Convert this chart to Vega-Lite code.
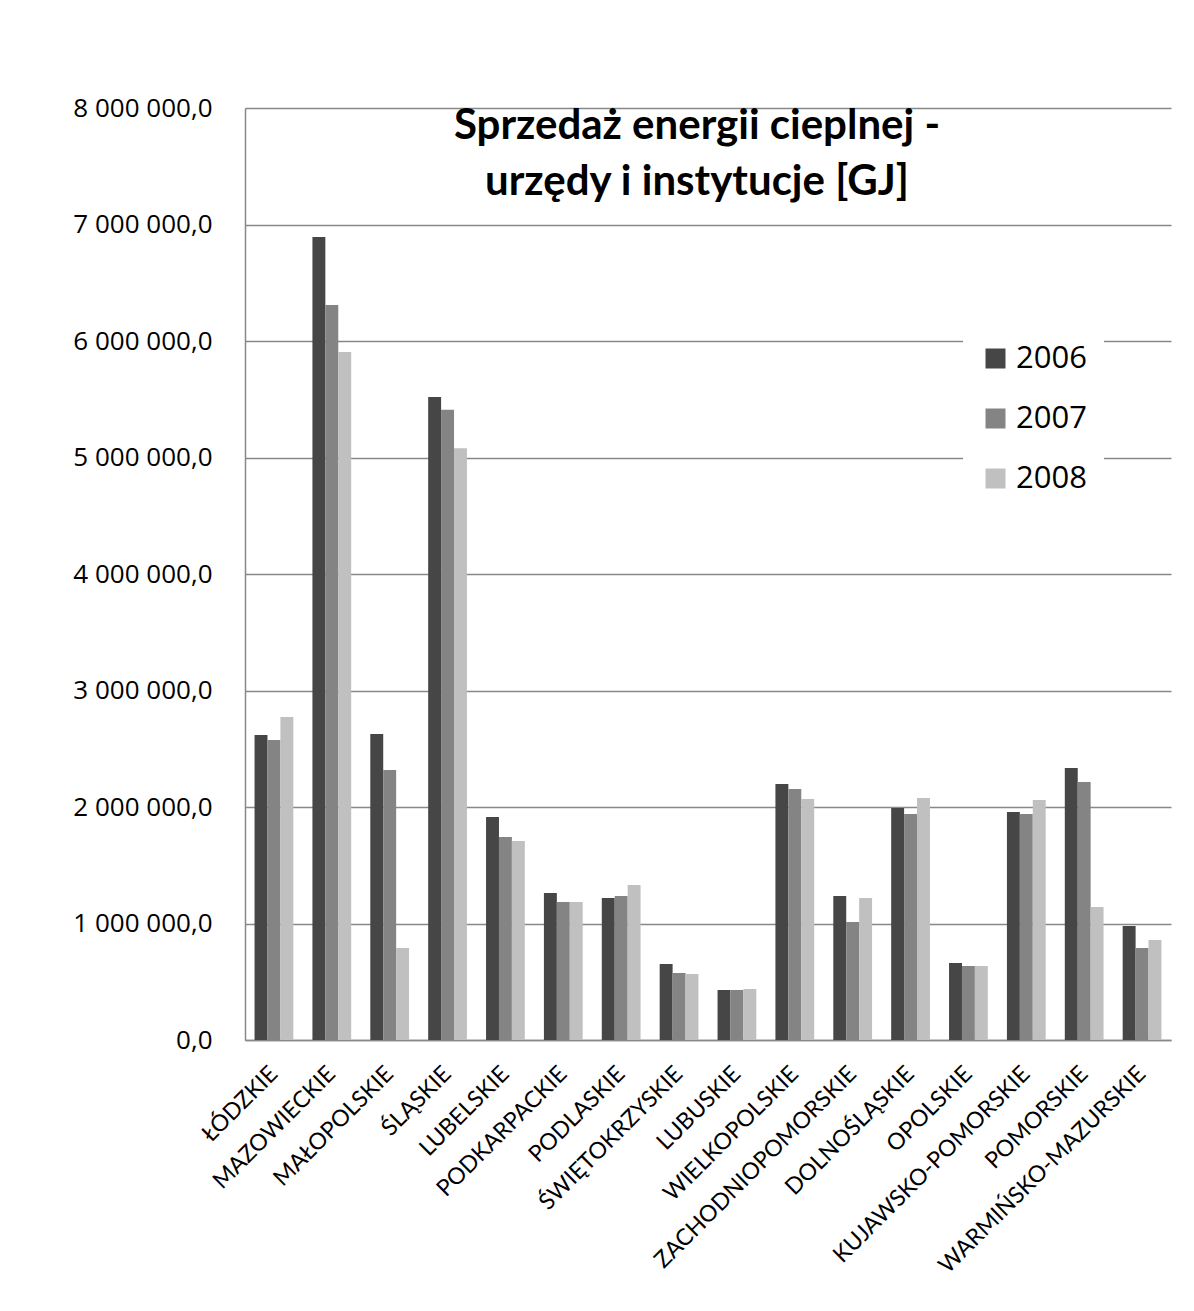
{
  "$schema": "https://vega.github.io/schema/vega-lite/v6.json",
  "width": 926,
  "height": 932,
  "autosize": "none",
  "padding": {"left": 245, "top": 108, "right": 23, "bottom": 271},
  "background": "white",
  "title": {
    "text": ["Sprzedaż energii cieplnej -", "urzędy i instytucje [GJ]"],
    "font": "Lato",
    "fontSize": 42,
    "fontWeight": "bold",
    "color": "black",
    "anchor": "middle",
    "frame": "group",
    "baseline": "top",
    "offset": -109,
    "lineHeight": 56,
    "dx": -11
  },
  "data": {
    "values": [
      {"region": "ŁÓDZKIE", "year": "2006", "value": 2618000},
      {"region": "ŁÓDZKIE", "year": "2007", "value": 2575000},
      {"region": "ŁÓDZKIE", "year": "2008", "value": 2773000},
      {"region": "MAZOWIECKIE", "year": "2006", "value": 6893000},
      {"region": "MAZOWIECKIE", "year": "2007", "value": 6310000},
      {"region": "MAZOWIECKIE", "year": "2008", "value": 5906000},
      {"region": "MAŁOPOLSKIE", "year": "2006", "value": 2627000},
      {"region": "MAŁOPOLSKIE", "year": "2007", "value": 2318000},
      {"region": "MAŁOPOLSKIE", "year": "2008", "value": 790000},
      {"region": "ŚLĄSKIE", "year": "2006", "value": 5520000},
      {"region": "ŚLĄSKIE", "year": "2007", "value": 5410000},
      {"region": "ŚLĄSKIE", "year": "2008", "value": 5080000},
      {"region": "LUBELSKIE", "year": "2006", "value": 1914000},
      {"region": "LUBELSKIE", "year": "2007", "value": 1742000},
      {"region": "LUBELSKIE", "year": "2008", "value": 1708000},
      {"region": "PODKARPACKIE", "year": "2006", "value": 1262000},
      {"region": "PODKARPACKIE", "year": "2007", "value": 1185000},
      {"region": "PODKARPACKIE", "year": "2008", "value": 1185000},
      {"region": "PODLASKIE", "year": "2006", "value": 1219000},
      {"region": "PODLASKIE", "year": "2007", "value": 1236000},
      {"region": "PODLASKIE", "year": "2008", "value": 1330000},
      {"region": "ŚWIĘTOKRZYSKIE", "year": "2006", "value": 652000},
      {"region": "ŚWIĘTOKRZYSKIE", "year": "2007", "value": 575000},
      {"region": "ŚWIĘTOKRZYSKIE", "year": "2008", "value": 566000},
      {"region": "LUBUSKIE", "year": "2006", "value": 429000},
      {"region": "LUBUSKIE", "year": "2007", "value": 429000},
      {"region": "LUBUSKIE", "year": "2008", "value": 438000},
      {"region": "WIELKOPOLSKIE", "year": "2006", "value": 2197000},
      {"region": "WIELKOPOLSKIE", "year": "2007", "value": 2155000},
      {"region": "WIELKOPOLSKIE", "year": "2008", "value": 2069000},
      {"region": "ZACHODNIOPOMORSKIE", "year": "2006", "value": 1236000},
      {"region": "ZACHODNIOPOMORSKIE", "year": "2007", "value": 1013000},
      {"region": "ZACHODNIOPOMORSKIE", "year": "2008", "value": 1219000},
      {"region": "DOLNOŚLĄSKIE", "year": "2006", "value": 1991000},
      {"region": "DOLNOŚLĄSKIE", "year": "2007", "value": 1940000},
      {"region": "DOLNOŚLĄSKIE", "year": "2008", "value": 2077000},
      {"region": "OPOLSKIE", "year": "2006", "value": 661000},
      {"region": "OPOLSKIE", "year": "2007", "value": 635000},
      {"region": "OPOLSKIE", "year": "2008", "value": 635000},
      {"region": "KUJAWSKO-POMORSKIE", "year": "2006", "value": 1957000},
      {"region": "KUJAWSKO-POMORSKIE", "year": "2007", "value": 1940000},
      {"region": "KUJAWSKO-POMORSKIE", "year": "2008", "value": 2060000},
      {"region": "POMORSKIE", "year": "2006", "value": 2335000},
      {"region": "POMORSKIE", "year": "2007", "value": 2215000},
      {"region": "POMORSKIE", "year": "2008", "value": 1142000},
      {"region": "WARMIŃSKO-MAZURSKIE", "year": "2006", "value": 979000},
      {"region": "WARMIŃSKO-MAZURSKIE", "year": "2007", "value": 790000},
      {"region": "WARMIŃSKO-MAZURSKIE", "year": "2008", "value": 858000}
    ]
  },
  "mark": {"type": "bar", "strokeWidth": 0},
  "encoding": {
    "x": {
      "field": "region",
      "type": "nominal",
      "sort": null,
      "scale": {"paddingInner": 0.33, "paddingOuter": 0.165},
      "axis": {
        "title": null,
        "labelAngle": -45,
        "labelAlign": "right",
        "labelBaseline": "middle",
        "labelFont": "Lato",
        "labelFontSize": 23,
        "labelColor": "black",
        "labelPadding": 30,
        "labelLimit": 500,
        "ticks": false,
        "domainColor": "#888888",
        "domainWidth": 1.5,
        "labelOverlap": false
      }
    },
    "xOffset": {"field": "year", "type": "nominal", "scale": {"paddingInner": 0, "paddingOuter": 0}},
    "y": {
      "field": "value",
      "type": "quantitative",
      "scale": {"domain": [0, 8000000], "nice": false},
      "axis": {
        "title": null,
        "values": [0, 1000000, 2000000, 3000000, 4000000, 5000000, 6000000, 7000000, 8000000],
        "format": ",.1f",
        "labelFont": "Open Sans",
        "labelFontSize": 26,
        "labelColor": "black",
        "labelPadding": 33,
        "ticks": false,
        "domainColor": "#888888",
        "domainWidth": 1.5,
        "gridColor": "#888888",
        "gridWidth": 1.5
      }
    },
    "color": {
      "field": "year",
      "type": "nominal",
      "scale": {"domain": ["2006", "2007", "2008"], "range": ["#464646", "#848484", "#C0C0C0"]},
      "legend": {
        "title": null,
        "orient": "none",
        "legendX": 718,
        "legendY": 218,
        "padding": 17,
        "fillColor": "white",
        "symbolType": "square",
        "symbolSize": 400,
        "symbolStrokeWidth": 0,
        "labelFont": "Open Sans",
        "labelFontSize": 31,
        "labelColor": "black",
        "labelOffset": 5,
        "rowPadding": 28
      }
    }
  },
  "config": {
    "locale": {"number": {"decimal": ",", "thousands": " ", "grouping": [3], "currency": ["", ""]}},
    "view": {"stroke": null}
  }
}
